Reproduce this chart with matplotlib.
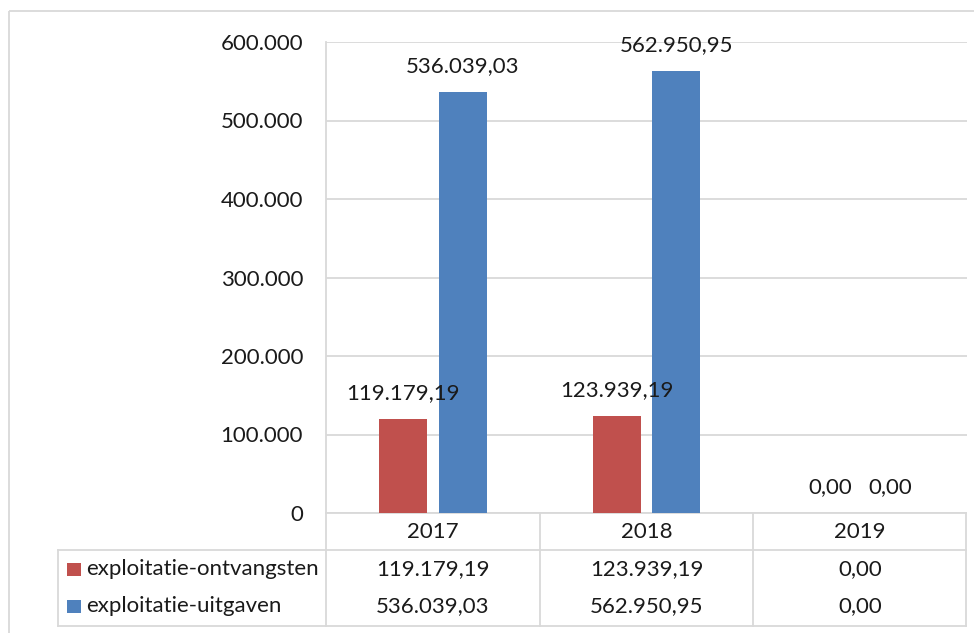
import matplotlib
matplotlib.use("Agg")
import matplotlib.pyplot as plt
import matplotlib.transforms as mtransforms
from matplotlib.patches import Rectangle

# ---- data ----
categories = ["2017", "2018", "2019"]
series_names = ["exploitatie-ontvangsten", "exploitatie-uitgaven"]
ontvangsten = [119179.19, 123939.19, 0.00]
uitgaven = [536039.03, 562950.95, 0.00]
y_ticks = [0, 100000, 200000, 300000, 400000, 500000, 600000]
colors = ["#C0504D", "#4F81BD"]

def nl(v, dec=2):
    s = f"{v:,.{dec}f}"
    return s.replace(",", "X").replace(".", ",").replace("X", ".")

plt.rcParams['font.family'] = ['Lato', 'DejaVu Sans']
FS = 16
TXT = "#1a1a1a"
GRID = "#D9D9D9"

W, H = 974, 633
fig = plt.figure(figsize=(W / 100, H / 100), dpi=100)

# overlay in pixel coordinates (for frame/table lines)
ov = fig.add_axes([0, 0, 1, 1])
ov.set_xlim(0, W)
ov.set_ylim(H, 0)
ov.axis("off")
ov.patch.set_alpha(0)

# main plot area in pixels
L, R, T, B = 326, 967, 42, 513
ax = fig.add_axes([L / W, 1 - B / H, (R - L) / W, (B - T) / H])
ax.patch.set_alpha(0)
ax.set_xlim(-0.5, len(categories) - 0.5)
ax.set_ylim(0, 600000)
for s in ax.spines.values():
    s.set_visible(False)
ax.set_yticks(y_ticks)
ax.set_yticklabels([nl(t, 0) if t else "0" for t in y_ticks])
ax.tick_params(axis="y", length=0, pad=16.5, labelsize=FS, labelcolor=TXT)
ax.set_xticks([])
ax.grid(axis="y", color=GRID, linewidth=1.3, zorder=0)
ax.set_axisbelow(True)

bw = 0.225
off = 0.14
xs = list(range(len(categories)))
for vals, c, sign in [(ontvangsten, colors[0], -1), (uitgaven, colors[1], 1)]:
    pos = [x + sign * off for x in xs]
    ax.bar(pos, vals, width=bw, color=c, zorder=3)
    for p, v in zip(pos, vals):
        ax.annotate(nl(v), (p, v), xytext=(0, 26), textcoords="offset pixels",
                    ha="center", va="center", fontsize=FS, color=TXT, zorder=4)

# outer chart frame
ov.add_patch(Rectangle((9, 11), 1000, 700, fill=False, edgecolor=GRID, linewidth=1.3))

# vertical axis line
lw = 1.3
ov.plot([L, L], [T, 626], color=GRID, lw=lw)
# data table lines
ov.plot([L, 966], [B, B], color=GRID, lw=lw)
ov.plot([58, 966], [550, 550], color=GRID, lw=lw)
ov.plot([58, 966], [626, 626], color=GRID, lw=lw)
ov.plot([58, 58], [550, 626], color=GRID, lw=lw)
ov.plot([966, 966], [B, 626], color=GRID, lw=lw)
for xb in [539.5, 753]:
    ov.plot([xb, xb], [B, 626], color=GRID, lw=lw)

blend = mtransforms.blended_transform_factory(ax.transData, ov.transData)
for i, cat in enumerate(categories):
    ov.text(i, 532, cat, transform=blend, ha="center", va="center", fontsize=FS, color=TXT)
row_y = [569, 606]
for ry, vals, c, name in zip(row_y, [ontvangsten, uitgaven], colors, series_names):
    for i, v in enumerate(vals):
        ov.text(i, ry, nl(v), transform=blend, ha="center", va="center", fontsize=FS, color=TXT)
    ov.add_patch(Rectangle((67, ry - 6.5), 13.5, 13.5, color=c, lw=0))
    ov.text(86, ry, name, ha="left", va="center", fontsize=FS, color=TXT)

fig.savefig("out.png", dpi=100)
